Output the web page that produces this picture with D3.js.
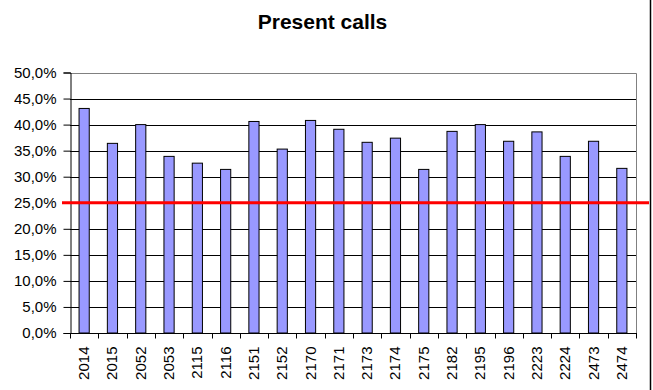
<!DOCTYPE html>
<html><head><meta charset="utf-8">
<script src="https://cdn.jsdelivr.net/npm/d3@7"></script>
<style>body{margin:0;background:#fff}svg{display:block}text{font-family:"Liberation Sans",Arial,sans-serif}</style>
</head><body><svg id="c" width="653" height="390"></svg>
<script>
const categories = ["2014","2015","2052","2053","2115","2116","2151","2152","2170","2171","2173","2174","2175","2182","2195","2196","2223","2224","2473","2474"];
const values = [43.1,36.4,40.0,33.9,32.6,31.4,40.6,35.3,40.8,39.1,36.6,37.4,31.4,38.7,40.0,36.8,38.6,33.9,36.8,31.6];
const yTicks = [0,5,10,15,20,25,30,35,40,45,50];
const threshold = 25;
const title = "Present calls";

const svg = d3.select("#c");
const L = 70, R = 636, T = 72.5, B = 333;
const x = d3.scaleBand().domain(categories).range([L, R]).paddingInner(0.64).paddingOuter(0.32);
const xb = d3.scaleBand().domain(categories).range([L, R]);
const y = d3.scaleLinear().domain([0, 50]).range([B, T]);
const fmt = d => d.toFixed(1).replace(".", ",") + "%";

svg.append("text").attr("x", 322.5).attr("y", 29).attr("text-anchor", "middle")
  .attr("font-size", 21).attr("font-weight", "bold").text(title);

// gridlines
svg.append("g").selectAll("line").data(yTicks.filter(t => t > 0 && t < 50)).join("line")
  .attr("x1", L).attr("x2", R).attr("y1", d => Math.round(y(d)) + 0.5).attr("y2", d => Math.round(y(d)) + 0.5)
  .attr("stroke", "#000").attr("stroke-width", 1);
// plot border (gray)
svg.append("path").attr("d", `M${L},${Math.round(T)+0.5}H${R+0.5}V${B}`)
  .attr("fill", "none").attr("stroke", "#808080").attr("stroke-width", 1);

// bars
svg.append("g").selectAll("rect").data(categories).join("rect")
  .attr("x", d => x(d)).attr("width", x.bandwidth())
  .attr("y", (d, i) => y(values[i])).attr("height", (d, i) => B - y(values[i]))
  .attr("fill", "#9999FF").attr("stroke", "#000").attr("stroke-width", 1);

// y axis
const ya = d3.axisLeft(y).tickValues(yTicks).tickFormat(fmt).tickSize(7).tickPadding(7);
const gy = svg.append("g").attr("transform", `translate(${L+0.5},0)`).call(ya);
gy.select(".domain").attr("stroke", "#000");
gy.selectAll(".tick line").attr("stroke", "#000");
gy.selectAll("text").attr("font-size", 15).attr("fill", "#000").attr("font-family", "Liberation Sans, Arial, sans-serif");

// x axis
const gx = svg.append("g").attr("transform", `translate(0,${B+0.5})`);
gx.append("line").attr("x1", L).attr("x2", R + 1).attr("stroke", "#000");
gx.selectAll(".tk").data(categories.concat(["__end"])).join("line").attr("class", "tk")
  .attr("x1", (d, i) => Math.round(L + i * xb.bandwidth()) + 0.5).attr("x2", (d, i) => Math.round(L + i * xb.bandwidth()) + 0.5)
  .attr("y1", 0).attr("y2", 5).attr("stroke", "#000");
gx.selectAll("text").data(categories).join("text")
  .attr("transform", d => `translate(${xb(d) + xb.bandwidth()/2 + 5},13) rotate(-90)`)
  .attr("text-anchor", "end").attr("font-size", 15).attr("fill", "#000").text(d => d);

// threshold line
svg.append("line").attr("x1", 62).attr("x2", 649).attr("y1", y(threshold)).attr("y2", y(threshold))
  .attr("stroke", "#FF0000").attr("stroke-width", 3);

// right border of chart area
svg.append("line").attr("x1", 650.5).attr("x2", 650.5).attr("y1", 0).attr("y2", 390)
  .attr("stroke", "#000").attr("stroke-width", 1.5);
</script></body></html>
